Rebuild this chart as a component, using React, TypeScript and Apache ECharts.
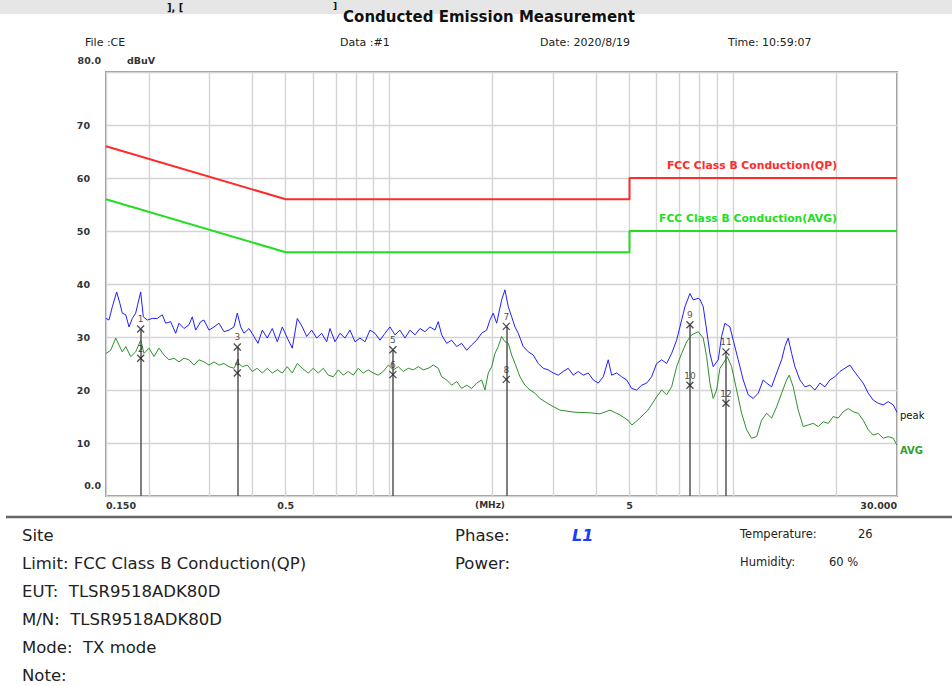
import React, { useEffect, useRef } from "react";
import * as echarts from "echarts";

const FF = "'DejaVu Sans', 'Liberation Sans', sans-serif";

const gridFreqs = [0.15, 0.2, 0.3, 0.4, 0.5, 0.6, 0.7, 0.8, 0.9, 1, 2, 3, 4, 5, 6, 7, 8, 9, 10, 20, 30];
const xLabelFreqs = [0.15, 0.5, 5, 30];
const xLabelTexts = ["0.150", "0.5", "5", "30.000"];
const yLabelValues = [10, 20, 30, 40, 50, 60, 70];

const qpLimit: [number, number][] = [[0.15, 66], [0.5, 56], [5, 56], [5, 60], [30, 60]];
const avgLimit: [number, number][] = [[0.15, 56], [0.5, 46], [5, 46], [5, 50], [30, 50]];

const peakTrace: [number, number][] = [
  [0.150, 33.5], [0.153, 33.2], [0.1565, 35.7], [0.1611, 38.5], [0.1647, 36.3], [0.1673, 34.5], [0.1712, 34.2],
  [0.175, 31.9], [0.1789, 33.5], [0.183, 34.5], [0.1892, 38.5], [0.1926, 33.8], [0.1978, 33.2], [0.2045, 33.5],
  [0.2115, 33.5], [0.2187, 34.2], [0.2237, 32.6], [0.2313, 32.9], [0.2392, 30.7], [0.2445, 32.6], [0.2529, 31.6],
  [0.2615, 32.3], [0.2673, 33.8], [0.2735, 31.3], [0.2829, 32.9], [0.2891, 33.2], [0.299, 31.3], [0.3092, 31.9],
  [0.3197, 32.6], [0.3306, 31.0], [0.3419, 31.3], [0.3535, 31.9], [0.3614, 34.5], [0.3698, 31.9], [0.378, 30.7],
  [0.3909, 31.6], [0.4042, 30.1], [0.4152, 28.8], [0.4273, 31.3], [0.4419, 29.8], [0.4569, 31.6], [0.4725, 29.1],
  [0.4886, 31.9], [0.5052, 29.8], [0.5224, 27.9], [0.5402, 33.5], [0.5586, 31.9], [0.5753, 30.1], [0.5948, 31.3],
  [0.6152, 29.8], [0.6361, 30.7], [0.6577, 29.1], [0.6724, 31.6], [0.6954, 29.1], [0.719, 30.7], [0.7435, 29.8],
  [0.7688, 31.3], [0.795, 29.1], [0.8221, 29.8], [0.85, 29.1], [0.879, 31.3], [0.9089, 30.7], [0.9399, 29.4],
  [0.9718, 30.7], [1.005, 31.9], [1.0392, 30.4], [1.0745, 31.3], [1.1112, 29.8], [1.1489, 31.3], [1.1882, 30.4],
  [1.2285, 31.6], [1.2705, 31.0], [1.3136, 31.9], [1.3586, 31.3], [1.3887, 32.9], [1.4207, 30.4], [1.4692, 28.8],
  [1.519, 29.4], [1.571, 28.2], [1.6245, 28.8], [1.68, 27.5], [1.737, 28.5], [1.796, 29.4], [1.857, 30.7],
  [1.9205, 31.3], [1.963, 33.2], [2.007, 34.5], [2.0535, 32.6], [2.1237, 37.0], [2.171, 38.9], [2.2197, 35.7],
  [2.2709, 33.8], [2.3216, 31.9], [2.3735, 30.7], [2.4542, 28.2], [2.538, 27.2], [2.6244, 26.6], [2.7135, 25.0],
  [2.806, 24.1], [2.9013, 23.8], [3.0005, 23.2], [3.1026, 22.8], [3.2079, 23.5], [3.3176, 24.1], [3.4304, 22.8],
  [3.5477, 23.5], [3.6683, 22.8], [3.7935, 23.2], [3.9224, 21.9], [4.0554, 21.3], [4.1942, 22.5], [4.3361, 25.7],
  [4.4361, 22.8], [4.5878, 23.2], [4.7434, 22.5], [4.9056, 21.9], [5.0723, 20.3], [5.2445, 20.0], [5.4237, 20.9],
  [5.6079, 21.3], [5.7996, 22.5], [5.9966, 25.0], [6.2016, 25.7], [6.4122, 25.0], [6.63, 26.9], [6.8564, 29.4],
  [7.0892, 33.2], [7.2477, 35.7], [7.4954, 38.2], [7.6613, 37.0], [7.923, 37.3], [8.0147, 37.1], [8.1939, 35.7],
  [8.3808, 31.3], [8.5682, 26.9], [8.7597, 24.4], [9.0593, 25.7], [9.266, 30.1], [9.4731, 32.6], [9.797, 31.9],
  [10.016, 29.4], [10.356, 25.7], [10.71, 21.9], [11.074, 19.1], [11.452, 18.4], [11.841, 19.4], [12.246, 21.9],
  [12.528, 21.3], [12.954, 20.6], [13.393, 23.2], [13.851, 25.7], [14.161, 28.2], [14.477, 29.8], [14.811, 26.9],
  [15.142, 24.4], [15.657, 21.9], [16.191, 20.6], [16.741, 20.9], [17.313, 20.0], [17.901, 21.3], [18.508, 20.6],
  [19.141, 21.9], [19.791, 22.5], [20.469, 23.5], [21.165, 24.1], [21.887, 24.7], [22.371, 23.8], [23.136, 22.5],
  [23.922, 21.3], [24.74, 19.4], [25.58, 18.1], [26.454, 17.5], [27.353, 17.2], [28.281, 17.8], [29.247, 17.2],
  [30.0, 15.8],
];

const avgTrace: [number, number][] = [
  [0.150, 26.9], [0.1548, 27.5], [0.1601, 29.8], [0.1636, 28.5], [0.1673, 27.2], [0.1712, 28.2], [0.177, 26.3],
  [0.183, 27.2], [0.1892, 29.4], [0.1935, 26.9], [0.2001, 27.9], [0.2069, 26.3], [0.2139, 27.9], [0.2212, 26.6],
  [0.2287, 25.7], [0.2365, 26.0], [0.2445, 25.3], [0.2529, 26.0], [0.2615, 25.7], [0.2705, 24.7], [0.2796, 25.7],
  [0.2891, 25.3], [0.299, 24.7], [0.3092, 25.3], [0.3197, 24.7], [0.3306, 25.0], [0.3419, 24.4], [0.3535, 24.1],
  [0.3614, 25.3], [0.3737, 24.4], [0.3864, 24.7], [0.3996, 23.5], [0.4132, 24.1], [0.4273, 23.2], [0.4419, 24.1],
  [0.4569, 23.2], [0.4725, 23.8], [0.4886, 23.2], [0.5052, 24.4], [0.5224, 23.2], [0.5402, 25.0], [0.5586, 24.1],
  [0.5814, 23.2], [0.6013, 24.1], [0.6217, 23.2], [0.643, 24.1], [0.6648, 22.8], [0.6874, 22.5], [0.7109, 23.8],
  [0.735, 22.8], [0.7602, 23.5], [0.786, 22.8], [0.8129, 24.1], [0.8404, 23.2], [0.869, 23.8], [0.8987, 23.2],
  [0.9292, 22.8], [0.9609, 23.5], [0.9935, 24.7], [1.0275, 23.8], [1.0624, 24.4], [1.0985, 23.5], [1.136, 24.1],
  [1.1746, 23.8], [1.2147, 24.4], [1.256, 23.8], [1.2989, 24.1], [1.343, 24.7], [1.3887, 24.1], [1.4207, 22.5],
  [1.4692, 21.9], [1.519, 20.9], [1.571, 21.6], [1.6245, 20.3], [1.68, 20.9], [1.737, 20.3], [1.796, 21.3],
  [1.857, 21.9], [1.899, 20.0], [1.9413, 23.2], [1.986, 24.4], [2.0304, 26.9], [2.0758, 28.2], [2.1237, 30.1],
  [2.171, 29.1], [2.2197, 28.8], [2.2709, 26.6], [2.3216, 25.0], [2.4004, 22.5], [2.482, 20.9], [2.5668, 20.0],
  [2.6543, 19.4], [2.7447, 18.4], [2.8382, 17.8], [2.935, 17.2], [3.1377, 16.2], [3.4701, 15.8], [3.8367, 15.7],
  [4.1024, 15.5], [4.3863, 16.2], [4.6905, 15.3], [4.9478, 14.3], [5.0826, 13.4], [5.3616, 14.7], [5.657, 16.2],
  [5.9966, 18.7], [6.2016, 20.0], [6.4122, 19.1], [6.63, 20.6], [6.8564, 24.4], [7.0892, 26.9], [7.3316, 29.1],
  [7.58, 30.4], [7.923, 31.0], [8.1939, 29.8], [8.3808, 26.3], [8.5682, 21.3], [8.7597, 18.4], [8.9615, 20.0],
  [9.1619, 24.1], [9.3668, 25.0], [9.6209, 26.3], [9.9092, 24.4], [10.247, 20.0], [10.595, 15.6], [10.958, 12.5],
  [11.326, 10.9], [11.716, 11.2], [12.112, 14.3], [12.528, 15.6], [12.954, 14.7], [13.393, 16.8], [13.851, 19.4],
  [14.322, 21.9], [14.575, 22.8], [14.969, 20.6], [15.48, 16.2], [16.006, 13.1], [16.553, 13.4], [17.111, 13.7],
  [17.7, 13.1], [18.303, 14.0], [18.924, 13.7], [19.569, 15.0], [20.235, 14.7], [20.927, 15.9], [21.637, 16.5],
  [22.371, 15.9], [23.136, 15.6], [23.922, 14.3], [24.74, 12.5], [25.58, 11.5], [26.454, 11.8], [27.353, 10.9],
  [28.281, 11.2], [29.247, 10.9], [30.0, 9.6],
];

const markerNos = [1, 2, 3, 4, 5, 6, 7, 8, 9, 10, 11, 12];
const markerFreqs = [0.1892, 0.1892, 0.3614, 0.3614, 1.025, 1.025, 2.19, 2.19, 7.4954, 7.4954, 9.54, 9.54];
const markerLevels = [31.5, 26.0, 28.1, 23.2, 27.6, 22.9, 32.0, 22.0, 32.3, 20.9, 27.2, 17.5];

const lg = (f: number) => Math.log10(f);
const toXY = (arr: [number, number][]) => arr.map(([f, v]) => [lg(f), v]);

function txt(text: string, x: number, y: number, opts: any = {}) {
  return {
    type: "text",
    x,
    y,
    silent: true,
    style: {
      text,
      fill: opts.fill || "#222",
      fontSize: opts.fontSize || 11,
      fontFamily: FF,
      fontWeight: opts.fontWeight || "normal",
      fontStyle: opts.fontStyle || "normal",
      align: opts.align || "left",
      verticalAlign: opts.verticalAlign || "middle",
    },
    z: 10,
  };
}

export default function App() {
  const ref = useRef<HTMLDivElement>(null);
  useEffect(() => {
    if (!ref.current) return;
    const chart = echarts.init(ref.current, null, { renderer: "svg" });

    const markerLinesData: any[] = [];
    for (let i = 0; i < markerFreqs.length; i += 2) {
      const top = Math.max(markerLevels[i], markerLevels[i + 1]);
      markerLinesData.push([
        { coord: [lg(markerFreqs[i]), 0] },
        { coord: [lg(markerFreqs[i]), top] },
      ]);
    }

    const option: any = {
      animation: false,
      backgroundColor: "#ffffff",
      grid: {
        left: 106,
        right: 55,
        top: 72,
        bottom: 190,
        show: true,
        borderColor: "#999",
        borderWidth: 2,
        backgroundColor: "transparent",
      },
      xAxis: {
        type: "value",
        min: lg(0.15),
        max: lg(30),
        axisLine: { show: false },
        axisTick: { show: false, customValues: gridFreqs.map(lg) },
        splitLine: { show: true, lineStyle: { color: "#d4d4d4", width: 1.4 } },
        axisLabel: {
          customValues: xLabelFreqs.map(lg),
          formatter: (v: number) => {
            const i = xLabelFreqs.findIndex((f) => Math.abs(lg(f) - v) < 1e-6);
            return i >= 0 ? xLabelTexts[i] : "";
          },
          fontFamily: FF,
          fontSize: 9.5,
          fontWeight: "bold",
          color: "#333",
          margin: 4,
          alignMinLabel: "left",
          alignMaxLabel: "right",
        },
      },
      yAxis: {
        type: "value",
        min: 0,
        max: 80,
        interval: 10,
        axisLine: { show: false },
        axisTick: { show: false },
        splitLine: { show: true, lineStyle: { color: "#d4d4d4", width: 1.4 } },
        axisLabel: {
          formatter: (v: number) => (yLabelValues.includes(v) ? String(v) : ""),
          fontFamily: FF,
          fontSize: 9.5,
          fontWeight: "bold",
          color: "#333",
          margin: 16,
        },
      },
      series: [
        {
          name: "FCC Class B Conduction(QP)",
          type: "line",
          data: toXY(qpLimit),
          symbol: "none",
          lineStyle: { color: "#ff2b2b", width: 2 },
          z: 4,
        },
        {
          name: "FCC Class B Conduction(AVG)",
          type: "line",
          data: toXY(avgLimit),
          symbol: "none",
          lineStyle: { color: "#22dd22", width: 2 },
          z: 4,
        },
        {
          name: "peak",
          type: "line",
          data: toXY(peakTrace),
          symbol: "none",
          lineStyle: { color: "#1f1fff", width: 1 },
          endLabel: {
            show: true,
            formatter: "peak",
            color: "#111",
            fontFamily: FF,
            fontSize: 10,
            offset: [0, 3],
            distance: 3,
          },
          z: 3,
        },
        {
          name: "AVG",
          type: "line",
          data: toXY(avgTrace),
          symbol: "none",
          lineStyle: { color: "#2e8f2e", width: 1 },
          endLabel: {
            show: true,
            formatter: "AVG",
            color: "#2ea02e",
            fontFamily: FF,
            fontWeight: "bold",
            fontSize: 10,
            offset: [0, 5],
            distance: 3,
          },
          z: 3,
        },
        {
          name: "markers",
          type: "scatter",
          data: markerNos.map((n, i) => ({ name: String(n), value: [lg(markerFreqs[i]), markerLevels[i]] })),
          symbol: "path://M0,0L10,10M10,0L0,10",
          symbolSize: 7,
          itemStyle: { color: "rgba(0,0,0,0)", borderColor: "#222", borderWidth: 1.3 },
          label: {
            show: true,
            position: "top",
            distance: 1,
            formatter: (p: any) => p.name,
            fontFamily: FF,
            fontSize: 9,
            color: "#222",
          },
          markLine: {
            silent: true,
            symbol: ["none", "none"],
            label: { show: false },
            lineStyle: { color: "#555", width: 1.5, type: "solid" },
            data: markerLinesData,
          },
          z: 6,
        },
      ],
      graphic: [
        { type: "rect", shape: { x: 0, y: 0, width: 952, height: 14 }, style: { fill: "#e6e6e6" }, silent: true, z: 1 },
        txt("], [", 167, 7, { fontSize: 10, fontWeight: "bold", fill: "#111" }),
        txt("]", 333, 6, { fontSize: 9, fontWeight: "bold", fill: "#111" }),
        txt("Conducted Emission Measurement", 489, 17, { fontSize: 15, fontWeight: "bold", fill: "#111", align: "center" }),
        txt("File :CE", 85, 42),
        txt("Data :#1", 340, 42),
        txt("Date: 2020/8/19", 540, 42),
        txt("Time: 10:59:07", 728, 42),
        txt("80.0", 101, 60, { fontSize: 9.5, fontWeight: "bold", align: "right", fill: "#333" }),
        txt("dBuV", 127, 60, { fontSize: 9.5, fontWeight: "bold", fill: "#333" }),
        txt("0.0", 101, 485, { fontSize: 9.5, fontWeight: "bold", align: "right", fill: "#333" }),
        txt("(MHz)", 490, 505, { fontSize: 9, fontWeight: "bold", align: "center", fill: "#333" }),
        txt("FCC Class B Conduction(QP)", 752, 165, { fontSize: 10.8, fontWeight: "bold", fill: "#ff2b2b", align: "center" }),
        txt("FCC Class B Conduction(AVG)", 748, 218, { fontSize: 10.8, fontWeight: "bold", fill: "#22dd22", align: "center" }),
        { type: "line", shape: { x1: 6, y1: 517, x2: 952, y2: 517 }, style: { stroke: "#666", lineWidth: 2.5 }, silent: true },
        txt("Site", 22, 535, { fontSize: 16.5 }),
        txt("Limit: FCC Class B Conduction(QP)", 22, 563, { fontSize: 16.5 }),
        txt("EUT:  TLSR9518ADK80D", 22, 591, { fontSize: 16.5 }),
        txt("M/N:  TLSR9518ADK80D", 22, 619, { fontSize: 16.5 }),
        txt("Mode:  TX mode", 22, 647, { fontSize: 16.5 }),
        txt("Note:", 22, 675, { fontSize: 16.5 }),
        txt("Phase:", 455, 535, { fontSize: 16.5 }),
        txt("L1", 572, 535, { fontSize: 16, fontWeight: "bold", fontStyle: "italic", fill: "#1a3cff" }),
        txt("Power:", 455, 563, { fontSize: 16.5 }),
        txt("Temperature:", 740, 534, { fontSize: 11.5 }),
        txt("26", 858, 534, { fontSize: 11.5 }),
        txt("Humidity:", 740, 562, { fontSize: 11.5 }),
        txt("60 %", 829, 562, { fontSize: 11.5 }),
      ],
    };

    chart.setOption(option);
    return () => chart.dispose();
  }, []);

  return (
    <div
      ref={ref}
      style={{ position: "absolute", left: 0, top: 0, width: 952, height: 686, background: "#fff" }}
    />
  );
}
